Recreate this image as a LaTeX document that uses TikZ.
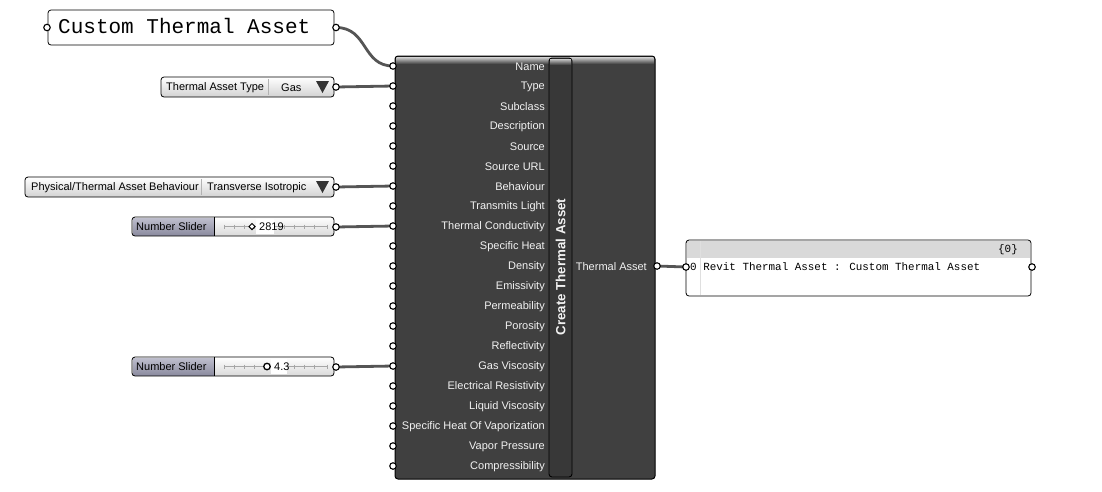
\documentclass[tikz,border=0pt]{standalone}
\usepackage{fontspec}
\setmainfont{Liberation Sans}
\newfontfamily\monofont{Liberation Mono}
\usetikzlibrary{calc,shapes.geometric}
\definecolor{wire}{HTML}{555555}
\definecolor{body}{HTML}{404040}
\definecolor{strip}{HTML}{383838}
\definecolor{lbl}{HTML}{F2F2F2}
\tikzset{
  wirestyle/.style={draw=wire,line width=2.8pt},
  port/.style={circle,draw=black,fill=white,line width=1.1pt,inner sep=0pt,minimum size=6.5pt},
  inlabel/.style={anchor=east,text=lbl,font=\fontsize{11}{12}\selectfont,inner sep=0pt},
  box/.style={draw=black,line width=0.8pt,rounded corners=3pt},
  small/.style={font=\fontsize{11}{12}\selectfont,inner sep=0pt}
}
\begin{document}
\begin{tikzpicture}[x=1pt,y=-1pt]
\useasboundingbox (0,0) rectangle (1102,491);
\fill[white] (0,0) rectangle (1102,491);

% ---------- Panel: Custom Thermal Asset ----------
\node[box,fill=white,minimum width=286pt,minimum height=35pt,inner sep=0pt] (panel) at (191,27.5) {};
\node[font=\monofont\fontsize{21}{22}\selectfont,anchor=west,inner sep=0pt] (paneltxt) at (58,25.5) {Custom Thermal Asset};
\coordinate (panelout) at (336,27.5);
\coordinate (panelin) at (47,27.5);

% ---------- Value list: Thermal Asset Type ----------
\shade[top color=white,bottom color=gray!35,rounded corners=3pt] (161,77) rectangle (334,97);
\draw[box] (161,77) rectangle (334,97);
\draw[gray!60] (268,79) -- (268,95);
\node[small,anchor=west] (tatlbl) at (166,87.5) {Thermal Asset Type};
\node[small,anchor=west] (tatval) at (281,87.5) {Gas};
\fill[black!80] (316,81) -- (329,81) -- (322.5,93) -- cycle;
\coordinate (tatout) at (336,87);

% ---------- Value list: Behaviour ----------
\shade[top color=white,bottom color=gray!35,rounded corners=3pt] (25,177) rectangle (334,197);
\draw[box] (25,177) rectangle (334,197);
\draw[gray!60] (201,179) -- (201,195);
\node[small,anchor=west] (behlbl) at (31,187.5) {Physical/Thermal Asset Behaviour};
\node[small,anchor=west] (behval) at (207,187.5) {Transverse Isotropic};
\fill[black!80] (316,181) -- (329,181) -- (322.5,193) -- cycle;
\coordinate (behout) at (336,187);

% ---------- Slider 1 ----------
\shade[top color=white,bottom color=gray!30,rounded corners=3pt] (132,217) rectangle (334,236);
\shade[top color={rgb,255:red,190;green,190;blue,205},bottom color={rgb,255:red,140;green,140;blue,160}] (133,218) rectangle (214,235);
\draw[box] (132,217) rectangle (334,236);
\draw (214,217) -- (214,236);
\node[small,anchor=west] (s1lbl) at (136,227) {Number Slider};
\draw[gray!70] (224,226.5) -- (327,226.5);
\foreach \t in {224,234,244,254,264,274,284,294,304,314,327} \draw[gray!70] (\t,224.5) -- (\t,228.5);
\fill[white] (256,219) rectangle (274,234);
\node[draw=black,fill=white,diamond,inner sep=0pt,minimum size=6.5pt,line width=1pt] (s1knob) at (252,226.5) {};
\node[small,anchor=west] (s1val) at (259,226.5) {2819};
\coordinate (s1out) at (336,227);

% ---------- Slider 2 ----------
\shade[top color=white,bottom color=gray!30,rounded corners=3pt] (132,357) rectangle (334,376);
\shade[top color={rgb,255:red,190;green,190;blue,205},bottom color={rgb,255:red,140;green,140;blue,160}] (133,358) rectangle (214,375);
\draw[box] (132,357) rectangle (334,376);
\draw (214,357) -- (214,376);
\node[small,anchor=west] (s2lbl) at (136,367) {Number Slider};
\draw[gray!70] (224,366.5) -- (327,366.5);
\foreach \t in {224,234,244,254,264,274,284,294,304,314,327} \draw[gray!70] (\t,364.5) -- (\t,368.5);
\fill[white] (271,359) rectangle (287,374);
\node[draw=black,fill=white,circle,inner sep=0pt,minimum size=6.5pt,line width=1.3pt] (s2knob) at (267,366.5) {};
\node[small,anchor=west] (s2val) at (274,366.5) {4.3};
\coordinate (s2out) at (336,367);

% ---------- Main component ----------
\fill[body,rounded corners=3pt] (395,56) rectangle (655,479);
\shade[top color=gray!35,bottom color=body] (396,57) rectangle (654,64);
\draw[box,line width=1pt] (395,56) rectangle (655,479);
\draw[black,line width=0.9pt,rounded corners=3pt,fill=strip] (549,58) rectangle (572,477);
\shade[top color=gray!45,bottom color=strip] (550,59) rectangle (571,65);
\node[rotate=90,text=lbl,font=\bfseries\fontsize{13.3}{15}\selectfont,inner sep=0pt] (title) at (560.5,267) {Create Thermal Asset};

\foreach \lab [count=\i from 0] in {Name,Type,Subclass,Description,Source,Source URL,Behaviour,Transmits Light,Thermal Conductivity,Specific Heat,Density,Emissivity,Permeability,Porosity,Reflectivity,Gas Viscosity,Electrical Resistivity,Liquid Viscosity,Specific Heat Of Vaporization,Vapor Pressure,Compressibility}{
  \node[inlabel] (in\i) at (545,66.5+20*\i) {\lab};
  \coordinate (p\i) at (393,66+20*\i);
}
\node[inlabel] (outlbl) at (647,266.5) {Thermal Asset};
\coordinate (mainout) at (657,266);

% ---------- Output panel ----------
\fill[white,rounded corners=3pt] (686,240) rectangle (1031,296);
\fill[gray!30] (687,241) rectangle (1030,258);
\draw[gray!25] (700,241) -- (700,295);
\draw[box] (686,240) rectangle (1031,296);
\node[font=\monofont\fontsize{10.9}{12}\selectfont,anchor=east,inner sep=0pt] (idx) at (1018,249.5) {\{0\}};
\node[font=\monofont\fontsize{10.9}{12}\selectfont,anchor=west,inner sep=0pt] (row) at (690,267) {0 Revit Thermal Asset : Custom Thermal Asset};
\coordinate (opin) at (686,267);
\coordinate (opout) at (1032,267);

% ---------- Wires ----------
\draw[wirestyle] (panelout) .. controls (368,27.5) and (362,66) .. (p0);
\draw[wirestyle] (tatout) -- (p1);
\draw[wirestyle] (behout) -- (p6);
\draw[wirestyle] (s1out) -- (p8);
\draw[wirestyle] (s2out) -- (p15);
\draw[wirestyle] (mainout) -- (opin);

% ---------- Ports ----------
\foreach \i in {0,...,20} \node[port] at (p\i) {};
\foreach \c in {panelin,panelout,tatout,behout,s1out,s2out,mainout,opin,opout} \node[port] at (\c) {};
\end{tikzpicture}
\end{document}
